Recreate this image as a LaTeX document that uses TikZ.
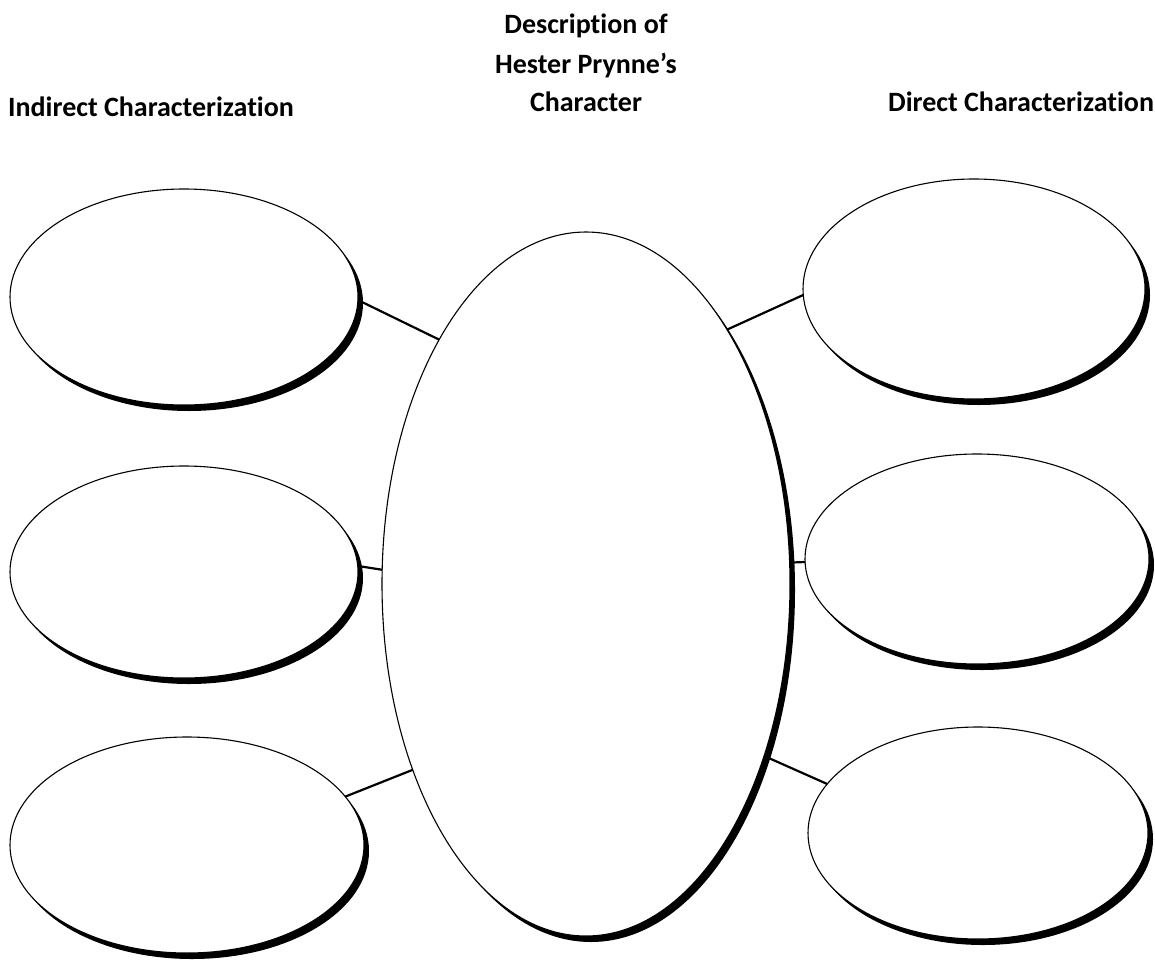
\documentclass[tikz,border=0pt]{standalone}
\usepackage{fontspec}
\setmainfont[Ligatures={NoCommon,NoContextual}]{Carlito}
\usetikzlibrary{shapes.geometric,shadows}
\tikzset{
  bub/.style={ellipse, draw=black, line width=1.1pt, fill=white, inner sep=0pt, outer sep=0pt,
    drop shadow={shadow xshift=5pt, shadow yshift=-6pt, fill=black, opacity=1}},
  link/.style={line width=2.2pt, black},
  lbl/.style={font=\bfseries\fontsize{28}{32}\selectfont, inner sep=0pt, anchor=base west}
}
\begin{document}
\begin{tikzpicture}[x=1pt,y=-1pt]
\useasboundingbox (0,0) rectangle (1155,961);
% labels
\node[lbl] (tl) at (8,116) {Indirect Characterization};
\node[lbl] (tr) at (888,111) {Direct Characterization};
\node[lbl, anchor=base] (t1) at (586,33) {Description of};
\node[lbl, anchor=base] (t2) at (586,73) {Hester Prynne’s};
\node[lbl, anchor=base] (t3) at (586,111) {Character};
% ellipses
\node[bub, minimum width=408pt, minimum height=704pt] (c) at (586,584) {};
\node[bub, minimum width=348pt, minimum height=216pt] (lt) at (184,297) {};
\node[bub, minimum width=348pt, minimum height=212pt] (lm) at (184,572) {};
\node[bub, minimum width=354pt, minimum height=216pt] (lb) at (187,845) {};
\node[bub, minimum width=342pt, minimum height=220pt] (rt) at (974,289) {};
\node[bub, minimum width=344pt, minimum height=210pt] (rm) at (977,559) {};
\node[bub, minimum width=340pt, minimum height=212pt] (rb) at (978,833) {};
% connectors
\draw[link] (lt.-1) -- (c.121);
\draw[link] (lm.2) -- (c.176);
\draw[link] (lb.17) -- (c.227);
\draw[link] (c.61) -- (rt.182);
\draw[link] (c.6) -- (rm.181);
\draw[link] (c.-44) -- (rb.162);
\end{tikzpicture}
\end{document}
